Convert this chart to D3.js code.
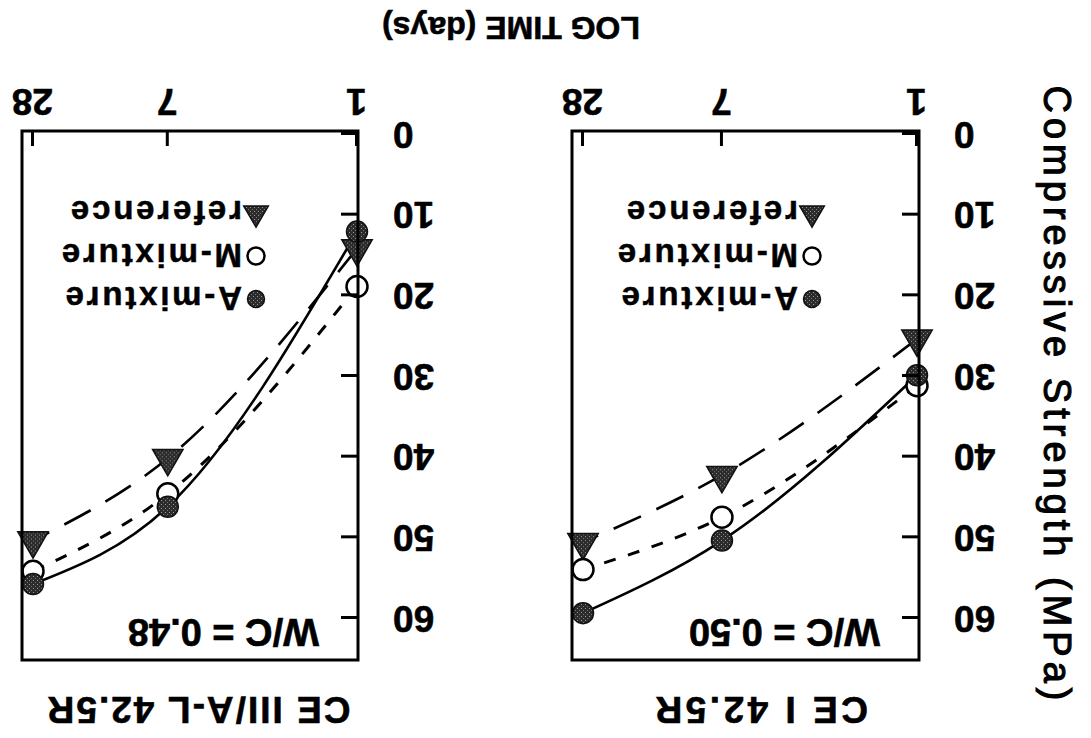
<!DOCTYPE html>
<html>
<head>
<meta charset="utf-8">
<script src="https://cdn.jsdelivr.net/npm/d3@7"></script>
<style>
  html, body { margin: 0; padding: 0; background: #fff; }
  text { font-family: "Liberation Sans", Arial, Helvetica, sans-serif; }
</style>
</head>
<body>
<div id="chart"></div>
<script>
// ages of the cubes (days), plotted on a log axis
const days = [1, 7, 28];
const yTicks = [0, 10, 20, 30, 40, 50, 60];
const seriesNames = ["A-mixture", "M-mixture", "reference"];

// CE I 42.5R, W/C = 0.50
const ceI_A = [29.9, 50.4, 59.4];
const ceI_M = [31.2, 47.5, 54.0];
const ceI_Ref = [25.4, 42.3, 50.6];

// CE III/A-L 42.5R, W/C = 0.48
const ceIII_A = [12.1, 46.2, 55.8];
const ceIII_M = [18.9, 44.6, 54.2];
const ceIII_Ref = [14.2, 40.2, 50.4];

const panelTitles = ["CE I 42.5R", "CE III/A-L 42.5R"];
const wcLabels = ["W/C = 0.50", "W/C = 0.48"];

const width = 1091;
const height = 738;
const boxTop = 78;
const boxBottom = 607;

// the scan is upside down, so everything is drawn upright and then turned round
const svg = d3.select("#chart").append("svg")
  .attr("width", width)
  .attr("height", height);

svg.append("rect").attr("width", width).attr("height", height).attr("fill", "#fff");

// speckled dark fill like the scanned markers
const defs = svg.append("defs");
const pat = defs.append("pattern")
  .attr("id", "speckle")
  .attr("patternUnits", "userSpaceOnUse")
  .attr("width", 4).attr("height", 4);
pat.append("rect").attr("width", 4).attr("height", 4).attr("fill", "#2b2b2b");
pat.append("rect").attr("x", 1).attr("y", 1).attr("width", 1).attr("height", 1).attr("fill", "#9a9a9a");
pat.append("rect").attr("x", 3).attr("y", 3).attr("width", 1).attr("height", 1).attr("fill", "#777");

const root = svg.append("g")
  .attr("transform", `rotate(180 ${width / 2} ${height / 2})`);

const lineStyles = {
  "A-mixture": null,
  "M-mixture": "12,13",
  "reference": "30,17"
};

// scanned print is heavy, thicken the bold text a little
function inky(sel, w) {
  return sel.attr("stroke", "#000").attr("stroke-width", w || 0.6);
}

function drawMarker(g, name, cx, cy, r) {
  if (name === "A-mixture") {
    g.append("circle").attr("cx", cx).attr("cy", cy).attr("r", r)
      .attr("fill", "url(#speckle)").attr("stroke", "#111").attr("stroke-width", 1.5);
  } else if (name === "M-mixture") {
    g.append("circle").attr("cx", cx).attr("cy", cy).attr("r", r)
      .attr("fill", "#fff").attr("stroke", "#000").attr("stroke-width", 2.5);
  } else {
    const side = r * 2.9;
    g.append("path")
      .attr("d", d3.symbol(d3.symbolTriangle, Math.sqrt(3) / 4 * side * side)())
      .attr("transform", `translate(${cx},${cy})`)
      .attr("fill", "url(#speckle)").attr("stroke", "#111").attr("stroke-width", 1.5);
  }
}

function drawPanel(p, values, title, wcLabel) {
  const g = root.append("g");

  const x = d3.scaleLog().domain([1, 28]).range(p.xRange);
  const y = d3.scaleLinear().domain([0, 60]).range([604, 120]);

  const line = d3.line()
    .x((d, i) => x(days[i]))
    .y((d) => y(d))
    .curve(d3.curveMonotoneX);

  // curves first, markers on top
  seriesNames.forEach((name, k) => {
    g.append("path")
      .attr("d", line(values[k]))
      .attr("fill", "none")
      .attr("stroke", "#000")
      .attr("stroke-width", name === "M-mixture" ? 3 : 2.6)
      .attr("stroke-dasharray", lineStyles[name]);
  });

  // draw order: reference, M, A (A sits on top like the scan)
  [2, 1, 0].forEach((k) => {
    values[k].forEach((v, i) => {
      drawMarker(g, seriesNames[k], x(days[i]), y(v), 10.5);
    });
  });

  // frame
  g.append("rect")
    .attr("x", p.x0).attr("y", boxTop)
    .attr("width", p.x1 - p.x0).attr("height", boxBottom - boxTop)
    .attr("fill", "none").attr("stroke", "#000").attr("stroke-width", 3);

  const yAxis = d3.axisLeft(y).tickValues(yTicks)
    .tickSizeInner(-17).tickSizeOuter(0).tickPadding(35);
  const ya = g.append("g").attr("transform", `translate(${p.x0},0)`).call(yAxis);
  ya.select(".domain").remove();
  ya.selectAll("line").attr("stroke-width", 3);
  inky(ya.selectAll("text")
    .attr("font-size", 37).attr("font-weight", "bold")
    .attr("font-family", "'Liberation Sans', Arial, sans-serif"));

  const xAxis = d3.axisBottom(x).tickValues(days).tickFormat(d3.format("d"))
    .tickSizeInner(-15).tickSizeOuter(0).tickPadding(16);
  const xa = g.append("g").attr("transform", `translate(0,${boxBottom})`).call(xAxis);
  xa.select(".domain").remove();
  xa.selectAll("line").attr("stroke-width", 3);
  inky(xa.selectAll("text")
    .attr("font-size", 37).attr("font-weight", "bold")
    .attr("font-family", "'Liberation Sans', Arial, sans-serif"));

  // W/C label
  inky(g.append("text")
    .attr("x", p.x0 + 39).attr("y", boxTop + 41)
    .attr("font-size", 38).attr("font-weight", "bold")
    .text(wcLabel));

  // legend
  seriesNames.forEach((name, k) => {
    const ly = boxTop + 361 + k * 43;
    drawMarker(g, name, p.legendX, ly, 8.5);
    inky(g.append("text")
      .attr("x", p.legendX + 14).attr("y", ly).attr("dy", "0.35em")
      .attr("font-size", 33).attr("font-weight", "bold")
      .attr("letter-spacing", 2.8)
      .text(name), 0.5);
  });

  // panel title
  inky(g.append("text")
    .attr("x", p.titleX).attr("y", 41)
    .attr("text-anchor", "middle")
    .attr("font-size", 37).attr("font-weight", "bold")
    .attr("letter-spacing", p.titleSpacing)
    .text(title));
}

const panels = [
  { x0: 172, x1: 519, xRange: [174, 508], legendX: 279, titleX: 331, titleSpacing: 3.5 },
  { x0: 733, x1: 1069, xRange: [734, 1058], legendX: 835, titleX: 893, titleSpacing: 2 }
];

drawPanel(panels[0], [ceI_A, ceI_M, ceI_Ref], panelTitles[0], wcLabels[0]);
drawPanel(panels[1], [ceIII_A, ceIII_M, ceIII_Ref], panelTitles[1], wcLabels[1]);

// shared axis titles
inky(root.append("text")
  .attr("transform", "translate(47,345) rotate(-90)")
  .attr("text-anchor", "middle")
  .attr("font-size", 38)
  .attr("textLength", 615)
  .attr("lengthAdjust", "spacing")
  .text("Compressive Strength (MPa)"), 1.1);

inky(root.append("text")
  .attr("x", 580).attr("y", 721)
  .attr("text-anchor", "middle")
  .attr("font-size", 32).attr("font-weight", "bold")
  .text("LOG TIME (days)"));
</script>
</body>
</html>
